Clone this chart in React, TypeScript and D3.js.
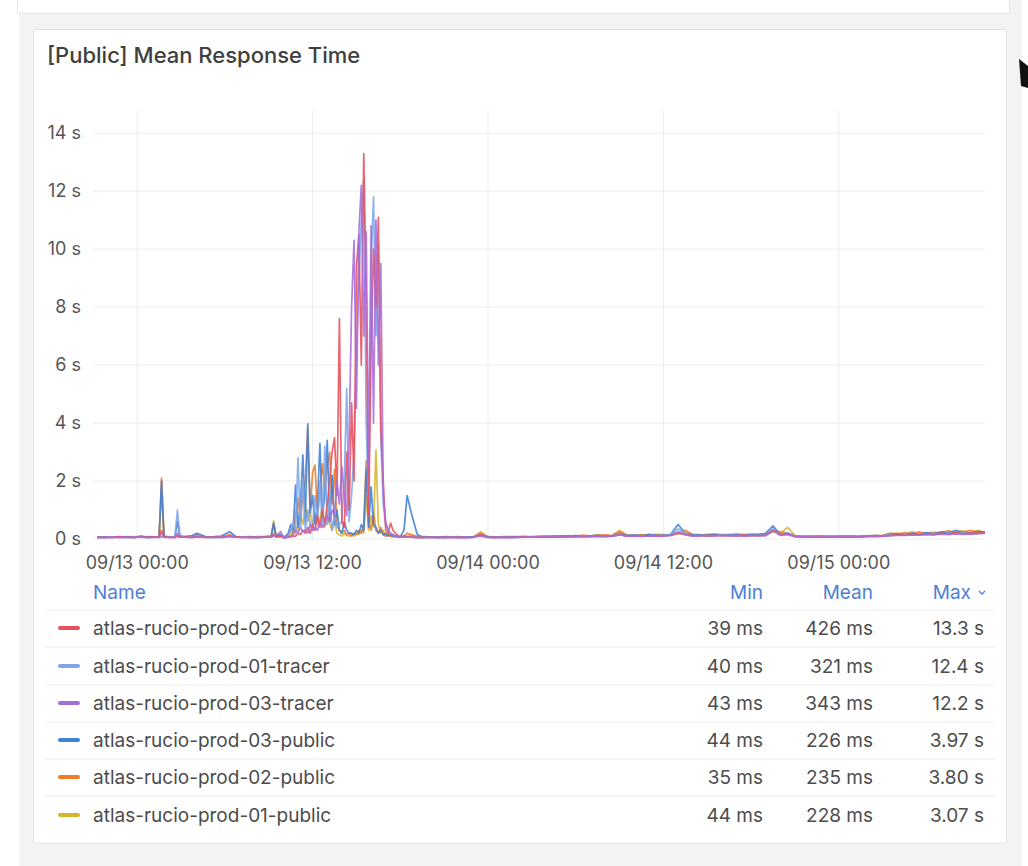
import React from 'react';
import * as d3 from 'd3';

// minutes since 09/13 00:00 (sample times)
const minutes = [
  // segment A (before the incident)
  -165, -135, -105, -75, -45, -15, 15, 45, 75, 90,
  100, 110, 135, 155, 165, 175, 195, 225, 245, 285,
  315, 345, 380, 405, 435, 465, 495, 525, 550, 560,
  570, 590,
  // segment B (incident)
  600, 610, 620, 630, 640, 650, 660, 670, 680, 690,
  700, 710, 720, 730, 740, 750, 760, 770, 780, 790,
  800, 810, 820, 830, 840, 850, 860, 870, 880, 890,
  900, 910, 920, 930, 940, 950, 960, 970, 980, 990,
  1000, 1010, 1020, 1030, 1040, 1050, 1060, 1070, 1080,
  // segment C (after)
  1095, 1108, 1125, 1150, 1170, 1200, 1230, 1260, 1290, 1320,
  1350, 1380, 1410, 1440, 1470, 1500, 1530, 1560, 1590, 1620,
  1650, 1680, 1710, 1740, 1770, 1800, 1830, 1860, 1890, 1920,
  1950, 1980, 2010, 2040, 2070, 2100, 2130, 2160, 2190, 2220,
  2250, 2280, 2310, 2340, 2370, 2400, 2430, 2460, 2490, 2520,
  2550, 2580, 2610, 2640, 2670, 2700, 2730, 2760, 2790, 2820,
  2850, 2880, 2910, 2940, 2970, 3000, 3030, 3060, 3090, 3120,
  3150, 3180, 3210, 3240, 3270, 3300, 3330, 3360, 3390, 3420,
  3450, 3480,
];

// values in seconds
const prod02Tracer = [
  0.05, 0.06, 0.05, 0.07, 0.06, 0.05, 0.08, 0.06, 0.07, 0.06,
  0.3, 0.07, 0.06, 0.05, 0.12, 0.06, 0.07, 0.06, 0.08, 0.06,
  0.07, 0.06, 0.1, 0.07, 0.06, 0.05, 0.06, 0.07, 0.06, 0.15,
  0.08, 0.1,
  0.05, 0.05, 0.06, 0.08, 0.1, 0.1, 0.2, 0.15, 0.3, 0.2,
  0.4, 0.2, 0.5, 0.3, 0.8, 0.4, 1.0, 0.5, 1.2, 2.0,
  3.0, 3.5, 1.5, 7.6, 0.6, 0.4, 3.0, 1.0, 4.7, 2.0,
  9.4, 10.5, 6.0, 13.3, 8.5, 0.8, 6.5, 10.0, 8.0, 11.1,
  3.8, 2.0, 0.3, 0.2, 0.55, 0.3, 0.2, 0.12, 0.08,
  0.1, 0.08, 0.07, 0.06, 0.05, 0.06, 0.05, 0.06, 0.05, 0.06,
  0.05, 0.06, 0.15, 0.06, 0.05, 0.06, 0.05, 0.06, 0.07, 0.06,
  0.07, 0.06, 0.08, 0.07, 0.08, 0.09, 0.08, 0.09, 0.1, 0.08,
  0.1, 0.15, 0.1, 0.11, 0.09, 0.12, 0.1, 0.11, 0.12, 0.2,
  0.15, 0.11, 0.12, 0.1, 0.13, 0.11, 0.12, 0.1, 0.13, 0.12,
  0.11, 0.13, 0.3, 0.15, 0.18, 0.08, 0.07, 0.08, 0.07, 0.06,
  0.07, 0.08, 0.07, 0.08, 0.07, 0.09, 0.1, 0.09, 0.12, 0.15,
  0.13, 0.16, 0.14, 0.18, 0.15, 0.2, 0.17, 0.22, 0.18, 0.2,
  0.2, 0.22,
];

const prod01Tracer = [
  0.06, 0.05, 0.07, 0.06, 0.05, 0.07, 0.06, 0.05, 0.06, 0.07,
  0.2, 0.06, 0.07, 0.08, 1.0, 0.15, 0.06, 0.07, 0.1, 0.06,
  0.05, 0.07, 0.12, 0.06, 0.07, 0.06, 0.05, 0.06, 0.07, 0.2,
  0.06, 0.08,
  0.05, 0.06, 0.1, 0.3, 0.6, 0.2, 2.8, 0.4, 2.0, 0.3,
  1.0, 0.5, 0.3, 1.5, 0.6, 2.0, 0.4, 3.2, 0.5, 1.4,
  0.3, 0.8, 0.4, 0.5, 0.6, 2.0, 5.2, 0.6, 1.5, 3.0,
  6.5, 9.0, 11.0, 12.4, 4.0, 1.0, 9.5, 11.8, 7.0, 10.2,
  3.5, 1.2, 0.5, 0.3, 0.2, 0.15, 0.1, 0.08, 0.06,
  0.08, 0.07, 0.06, 0.05, 0.06, 0.05, 0.06, 0.05, 0.06, 0.05,
  0.06, 0.05, 0.18, 0.06, 0.05, 0.06, 0.06, 0.05, 0.06, 0.07,
  0.06, 0.07, 0.08, 0.07, 0.09, 0.08, 0.1, 0.09, 0.1, 0.09,
  0.11, 0.18, 0.1, 0.12, 0.1, 0.11, 0.13, 0.12, 0.14, 0.35,
  0.2, 0.12, 0.13, 0.11, 0.12, 0.14, 0.12, 0.13, 0.11, 0.13,
  0.12, 0.14, 0.35, 0.14, 0.22, 0.09, 0.08, 0.07, 0.08, 0.07,
  0.08, 0.07, 0.08, 0.07, 0.08, 0.1, 0.09, 0.11, 0.14, 0.13,
  0.15, 0.14, 0.17, 0.16, 0.19, 0.17, 0.21, 0.19, 0.23, 0.18,
  0.21, 0.2,
];

const prod03Tracer = [
  0.05, 0.05, 0.06, 0.05, 0.06, 0.05, 0.07, 0.05, 0.06, 0.05,
  0.08, 0.06, 0.05, 0.06, 0.2, 0.08, 0.06, 0.05, 0.07, 0.05,
  0.06, 0.05, 0.08, 0.06, 0.05, 0.06, 0.05, 0.06, 0.06, 0.1,
  0.12, 0.25,
  0.05, 0.05, 0.06, 0.1, 0.15, 0.3, 0.2, 0.4, 0.25, 0.3,
  0.2, 0.5, 0.3, 0.4, 0.3, 0.6, 0.4, 0.5, 0.8, 0.6,
  1.0, 0.8, 2.0, 1.2, 2.5, 1.5, 0.8, 3.5, 8.0, 10.3,
  4.5, 10.6, 12.2, 7.0, 10.6, 2.5, 10.8, 4.0, 11.0, 6.0,
  9.5, 1.5, 0.6, 0.3, 0.2, 0.15, 0.1, 0.08, 0.06,
  0.07, 0.06, 0.06, 0.05, 0.05, 0.06, 0.05, 0.05, 0.06, 0.05,
  0.05, 0.06, 0.1, 0.05, 0.06, 0.05, 0.05, 0.06, 0.06, 0.07,
  0.06, 0.07, 0.07, 0.08, 0.07, 0.08, 0.09, 0.08, 0.09, 0.1,
  0.09, 0.14, 0.1, 0.09, 0.11, 0.1, 0.11, 0.1, 0.12, 0.25,
  0.14, 0.1, 0.11, 0.12, 0.1, 0.12, 0.11, 0.12, 0.1, 0.11,
  0.12, 0.11, 0.28, 0.12, 0.15, 0.08, 0.07, 0.07, 0.06, 0.07,
  0.07, 0.08, 0.07, 0.08, 0.08, 0.09, 0.09, 0.1, 0.11, 0.12,
  0.12, 0.14, 0.13, 0.15, 0.14, 0.17, 0.15, 0.18, 0.16, 0.17,
  0.18, 0.19,
];

const prod03Public = [
  0.06, 0.07, 0.06, 0.08, 0.07, 0.06, 0.1, 0.07, 0.06, 0.08,
  2.0, 0.1, 0.07, 0.08, 0.6, 0.1, 0.08, 0.12, 0.2, 0.07,
  0.08, 0.1, 0.25, 0.08, 0.07, 0.08, 0.06, 0.08, 0.1, 0.55,
  0.1, 0.15,
  0.08, 0.1, 0.2, 0.5, 0.3, 1.86, 0.4, 1.2, 2.9, 0.6,
  3.97, 0.9, 1.5, 0.5, 1.2, 3.3, 0.8, 1.5, 3.4, 0.6,
  2.2, 0.5, 1.0, 0.3, 0.2, 0.6, 0.3, 0.2, 0.2, 0.15,
  0.3, 0.2, 0.5, 0.3, 2.4, 0.4, 1.8, 0.5, 0.4, 0.2,
  0.3, 0.15, 0.2, 0.1, 0.15, 0.1, 0.1, 0.08, 0.08,
  0.3, 1.5, 0.9, 0.15, 0.08, 0.07, 0.06, 0.08, 0.07, 0.06,
  0.07, 0.08, 0.12, 0.07, 0.06, 0.07, 0.08, 0.07, 0.06, 0.08,
  0.07, 0.09, 0.08, 0.1, 0.09, 0.12, 0.1, 0.11, 0.13, 0.1,
  0.12, 0.2, 0.12, 0.14, 0.11, 0.15, 0.13, 0.12, 0.16, 0.5,
  0.2, 0.14, 0.15, 0.12, 0.16, 0.13, 0.14, 0.15, 0.12, 0.16,
  0.14, 0.2, 0.45, 0.15, 0.2, 0.1, 0.09, 0.08, 0.1, 0.09,
  0.08, 0.09, 0.1, 0.08, 0.09, 0.11, 0.12, 0.1, 0.15, 0.18,
  0.14, 0.2, 0.16, 0.22, 0.18, 0.25, 0.2, 0.3, 0.22, 0.2,
  0.26, 0.24,
];

const prod02Public = [
  0.07, 0.06, 0.07, 0.06, 0.08, 0.07, 0.06, 0.08, 0.07, 0.06,
  2.1, 0.08, 0.06, 0.07, 0.1, 0.07, 0.06, 0.08, 0.15, 0.07,
  0.06, 0.07, 0.15, 0.07, 0.06, 0.07, 0.08, 0.07, 0.09, 0.5,
  0.08, 0.12,
  0.07, 0.08, 0.15, 0.3, 0.2, 0.8, 1.4, 0.6, 1.6, 2.0,
  3.8, 1.0, 2.3, 2.55, 0.8, 1.6, 2.6, 1.8, 2.5, 3.0,
  1.2, 2.4, 0.5, 0.3, 0.2, 0.3, 0.15, 0.2, 0.1, 0.2,
  0.15, 0.3, 0.2, 0.5, 2.7, 0.6, 0.3, 0.9, 0.3, 0.2,
  0.4, 0.15, 0.1, 0.2, 0.1, 0.08, 0.1, 0.08, 0.07,
  0.1, 0.2, 0.15, 0.08, 0.07, 0.06, 0.07, 0.06, 0.07, 0.08,
  0.06, 0.07, 0.2, 0.08, 0.07, 0.06, 0.07, 0.08, 0.09, 0.07,
  0.1, 0.08, 0.11, 0.09, 0.12, 0.1, 0.13, 0.11, 0.12, 0.14,
  0.11, 0.25, 0.13, 0.12, 0.15, 0.13, 0.16, 0.14, 0.13, 0.2,
  0.3, 0.15, 0.13, 0.16, 0.14, 0.15, 0.13, 0.17, 0.14, 0.15,
  0.16, 0.18, 0.3, 0.25, 0.2, 0.1, 0.08, 0.09, 0.08, 0.1,
  0.09, 0.08, 0.1, 0.09, 0.1, 0.12, 0.1, 0.13, 0.2, 0.15,
  0.22, 0.17, 0.25, 0.18, 0.2, 0.22, 0.28, 0.2, 0.24, 0.3,
  0.22, 0.25,
];

const prod01Public = [
  0.06, 0.07, 0.06, 0.07, 0.06, 0.08, 0.07, 0.06, 0.07, 0.06,
  1.6, 0.07, 0.08, 0.06, 0.1, 0.07, 0.08, 0.07, 0.12, 0.06,
  0.07, 0.08, 0.12, 0.06, 0.07, 0.06, 0.07, 0.08, 0.08, 0.63,
  0.09, 0.1,
  0.06, 0.07, 0.1, 0.2, 0.15, 0.4, 0.3, 0.8, 0.5, 1.2,
  0.6, 1.0, 0.4, 0.9, 0.5, 0.7, 1.1, 0.4, 0.8, 0.5,
  0.3, 0.6, 0.2, 0.15, 0.1, 0.2, 0.12, 0.1, 0.15, 0.1,
  0.2, 0.15, 0.3, 0.2, 1.5, 0.3, 0.8, 0.4, 3.07, 0.5,
  0.2, 0.3, 0.1, 0.15, 0.08, 0.1, 0.07, 0.08, 0.06,
  0.08, 0.1, 0.12, 0.07, 0.06, 0.07, 0.06, 0.07, 0.06, 0.07,
  0.07, 0.06, 0.25, 0.07, 0.06, 0.08, 0.07, 0.06, 0.08, 0.07,
  0.09, 0.1, 0.09, 0.11, 0.1, 0.11, 0.12, 0.1, 0.15, 0.12,
  0.13, 0.3, 0.14, 0.12, 0.13, 0.16, 0.14, 0.15, 0.14, 0.18,
  0.22, 0.16, 0.14, 0.15, 0.17, 0.15, 0.16, 0.14, 0.16, 0.15,
  0.17, 0.15, 0.25, 0.2, 0.4, 0.12, 0.09, 0.1, 0.08, 0.09,
  0.1, 0.08, 0.09, 0.1, 0.08, 0.1, 0.13, 0.11, 0.18, 0.2,
  0.16, 0.25, 0.18, 0.2, 0.24, 0.2, 0.26, 0.25, 0.28, 0.22,
  0.3, 0.22,
];

const seriesNames = [
  'atlas-rucio-prod-02-tracer',
  'atlas-rucio-prod-01-tracer',
  'atlas-rucio-prod-03-tracer',
  'atlas-rucio-prod-03-public',
  'atlas-rucio-prod-02-public',
  'atlas-rucio-prod-01-public',
];
const seriesValues = [prod02Tracer, prod01Tracer, prod03Tracer, prod03Public, prod02Public, prod01Public];
const seriesColors = ['#E8505B', '#7EA6E8', '#A86CD8', '#3F7FD6', '#F07B2B', '#D8B42C'];
const legendMin = ['39 ms', '40 ms', '43 ms', '44 ms', '35 ms', '44 ms'];
const legendMean = ['426 ms', '321 ms', '343 ms', '226 ms', '235 ms', '228 ms'];
const legendMax = ['13.3 s', '12.4 s', '12.2 s', '3.97 s', '3.80 s', '3.07 s'];
const drawOrder = [5, 4, 3, 1, 0, 2];

const yTicks = [0, 2, 4, 6, 8, 10, 12, 14];
const xTickHours = [0, 12, 24, 36, 48];

const base = new Date(2023, 8, 13, 0, 0, 0).getTime();
const tAt = (min: number) => new Date(base + min * 60000);

export default function App() {
  const W = 1028;
  const H = 866;
  const plotL = 97, plotR = 985, plotT = 110, plotB = 539;
  const x = d3.scaleTime().domain([tAt(-165), tAt(3480)]).range([plotL, plotR]);
  const y = d3.scaleLinear().domain([0, 14.8]).range([plotB, plotT]);
  const fmt = d3.timeFormat('%m/%d %H:%M');
  const line = d3.line<[Date, number]>().x(d => x(d[0])).y(d => y(d[1]));

  const font = "Inter, 'Noto Sans', Roboto, sans-serif";
  const rowY = [628, 666, 703, 740, 777, 815];
  const sepY = [610, 647, 685, 722, 759, 796];
  const txt = '#4c4c4c';
  const blue = '#4D7FD8';
  const lf = 19;

  return (
    <svg width={W} height={H} style={{ position: 'absolute', left: 0, top: 0, display: 'block' }} fontFamily={font}>
      <rect x={0} y={0} width={W} height={H} fill="#ffffff" />
      <rect x={19} y={0} width={1003} height={H} fill="#f3f3f4" />
      {/* upper panel edge */}
      <rect x={17.5} y={-6} width={992} height={19} fill="#ffffff" stroke="#e3e3e5" />
      {/* main panel */}
      <rect x={33.5} y={29.5} width={973} height={814} rx={3} fill="#ffffff" stroke="#e3e3e5" />
      {/* cursor fragment */}
      <path d="M1019,59 L1028,66 L1028,88 L1021,86 Z" fill="#111" />

      <text x={47} y={63} fontSize={22} fontWeight={500} fill="#404040">[Public] Mean Response Time</text>

      <defs>
        <clipPath id="plotclip">
          <rect x={plotL} y={plotT - 5} width={plotR - plotL} height={plotB - plotT + 6} />
        </clipPath>
      </defs>

      {/* grid */}
      {yTicks.map(t => (
        <line key={'gy' + t} x1={93} x2={plotR} y1={y(t)} y2={y(t)} stroke="#ececec" strokeWidth={1} />
      ))}
      {xTickHours.map(h => (
        <line key={'gx' + h} x1={x(tAt(h * 60))} x2={x(tAt(h * 60))} y1={plotT} y2={plotB} stroke="#ececec" strokeWidth={1} />
      ))}

      {/* y labels */}
      {yTicks.map(t => (
        <text key={'ly' + t} x={81} y={y(t)} dy="0.35em" textAnchor="end" fontSize={18} fill="#555">{t} s</text>
      ))}
      {/* x labels */}
      {xTickHours.map(h => (
        <text key={'lx' + h} x={x(tAt(h * 60))} y={563} dy="0.35em" textAnchor="middle" fontSize={18} fill="#555">{fmt(tAt(h * 60))}</text>
      ))}

      {/* series */}
      <g clipPath="url(#plotclip)">
        {drawOrder.map(i => {
          const pts: [Date, number][] = minutes.map((m, k) => [tAt(m), seriesValues[i][k]] as [Date, number]).filter(p => p[1] != null);
          return <path key={'s' + i} d={line(pts) || ''} fill="none" stroke={seriesColors[i]} strokeWidth={1.7} strokeLinejoin="round" strokeOpacity={0.88} />;
        })}
      </g>

      {/* legend table */}
      <text x={93} y={592} dy="0.35em" fontSize={lf} fill={blue}>Name</text>
      <text x={763} y={592} dy="0.35em" textAnchor="end" fontSize={lf} fill={blue}>Min</text>
      <text x={873} y={592} dy="0.35em" textAnchor="end" fontSize={lf} fill={blue}>Mean</text>
      <text x={971} y={592} dy="0.35em" textAnchor="end" fontSize={lf} fill={blue}>Max</text>
      <polyline points="979,591 982,594 985,591" fill="none" stroke={blue} strokeWidth={1.3} />
      {sepY.map((sy, k) => (
        <line key={'sep' + k} x1={45} x2={995} y1={sy} y2={sy} stroke="#ececec" strokeWidth={1} />
      ))}
      {seriesNames.map((n, k) => (
        <g key={'row' + k}>
          <line x1={60} x2={78} y1={rowY[k]} y2={rowY[k]} stroke={seriesColors[k]} strokeWidth={4} strokeLinecap="round" />
          <text x={93} y={rowY[k]} dy="0.35em" fontSize={lf} fill={txt}>{n}</text>
          <text x={763} y={rowY[k]} dy="0.35em" textAnchor="end" fontSize={lf} fill={txt}>{legendMin[k]}</text>
          <text x={873} y={rowY[k]} dy="0.35em" textAnchor="end" fontSize={lf} fill={txt}>{legendMean[k]}</text>
          <text x={984} y={rowY[k]} dy="0.35em" textAnchor="end" fontSize={lf} fill={txt}>{legendMax[k]}</text>
        </g>
      ))}
    </svg>
  );
}
